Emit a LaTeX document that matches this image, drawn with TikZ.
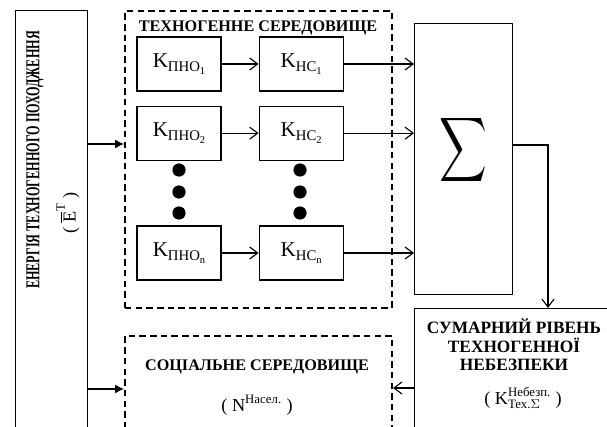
\documentclass[tikz,border=0pt]{standalone}
\usepackage{amsmath}
\usepackage{fontspec}
\setmainfont{Liberation Serif}
\usetikzlibrary{arrows.meta, positioning}

\newcommand{\ksub}[2]{K\raisebox{-0.45ex}{\fontsize{10.5}{10.5}\selectfont #1\raisebox{-0.45ex}{\fontsize{7.5}{7.5}\selectfont #2}}}

\begin{document}
\begin{tikzpicture}[
    x=0.025cm, y=-0.025cm,
    box/.style={rectangle, draw, line width=0.8pt, inner sep=0pt},
    env/.style={rectangle, draw, dash pattern=on 4.6pt off 3pt, line width=1.4pt, inner sep=0pt},
    kbox/.style={box, minimum width=2.1cm, minimum height=1.35cm, font=\fontsize{15}{17}\selectfont},
    head/.style={font=\bfseries\fontsize{11.5}{13}\selectfont, align=center},
    formula/.style={font=\fontsize{13}{15}\selectfont},
    dot/.style={circle, fill, inner sep=0pt, minimum size=0.33cm},
    arrow/.style={-{Straight Barb[length=2mm, width=3mm]}, line width=0.8pt},
    feed/.style={-{Latex[length=2.2mm, width=2.2mm]}, line width=0.8pt}
]
    \useasboundingbox (0,0) rectangle (607,427);
    \clip (0,0) rectangle (607,427);

    % Outer blocks
    \node[box, anchor=north west, minimum width=1.8cm, minimum height=11cm] (energy) at (15,10) {};
    \node[env, anchor=north west, minimum width=6.675cm, minimum height=7.425cm] (techno) at (124,10) {};
    \node[env, anchor=north west, minimum width=6.675cm, minimum height=4cm] (social) at (124,335) {};
    \node[box, anchor=north west, minimum width=2.45cm, minimum height=6.775cm] (sum) at (414,23) {};
    \node[box, anchor=north west, minimum width=5cm, minimum height=4cm] (level) at (414,308) {};

    % Texts of the outer blocks
    \node[rotate=90] (energytitle) at (35,160)
        {\scalebox{0.62}[1]{\bfseries\fontsize{14}{16}\selectfont ЕНЕРГІЯ ТЕХНОГЕННОГО ПОХОДЖЕННЯ}};
    \node[rotate=90, formula] (energyvar) at (68,213) {( $\overline{\text{E}}^{\text{T}}$ )};
    \node[head] (technotitle) at (258,28) {ТЕХНОГЕННЕ СЕРЕДОВИЩЕ};
    \node[head] (socialtitle) at (257,367) {СОЦІАЛЬНЕ СЕРЕДОВИЩЕ};
    \node[formula] (socialvar) at (257,405) {( $\text{N}^{\text{Насел.}}$ )};
    \node (sigma) at (463,150) {\scalebox{2.35}[3.2]{$\displaystyle\sum$}};
    \node[head, font=\bfseries\fontsize{12.3}{13.2}\selectfont] (leveltitle) at (514,345)
        {СУМАРНИЙ РІВЕНЬ\\ТЕХНОГЕННОЇ\\НЕБЕЗПЕКИ};
    \node[formula] (levelvar) at (523,398) {( $\text{K}^{\text{Небезп.}}_{\text{Тех.}\Sigma}$ )};

    % Inner chains
    \node[kbox] (pno1) at (179,64) {\ksub{ПНО}{1}};
    \node[kbox, right=0.925cm of pno1] (hc1) {\ksub{НС}{1}};
    \node[kbox, below=0.35cm of pno1] (pno2) {\ksub{ПНО}{2}};
    \node[kbox, right=0.925cm of pno2] (hc2) {\ksub{НС}{2}};
    \node[kbox] (pnon) at (179,253) {\ksub{ПНО}{n}};
    \node[kbox, right=0.925cm of pnon] (hcn) {\ksub{НС}{n}};

    \foreach \y in {170,192,213} {
        \node[dot] (dl\y) at (179,\y) {};
        \node[dot] (dr\y) at (300,\y) {};
    }

    % Connections
    \coordinate (in1) at (0,144);
    \coordinate (in2) at (0,389);
    \coordinate (out) at (548,145);
    \coordinate (back) at (0,388);
    \draw[feed] (energy.east |- in1) -- (techno.west |- in1);
    \draw[feed] (energy.east |- in2) -- (social.west |- in2);
    \foreach \i in {1,2,n} {
        \draw[arrow] (pno\i) -- (hc\i);
        \draw[arrow] (hc\i) -- (sum.west |- hc\i);
    }
    \draw[arrow] (sum.east |- out) -| (level.north -| out);
    \draw[arrow] (level.west |- back) -- (social.east |- back);
\end{tikzpicture}
\end{document}
